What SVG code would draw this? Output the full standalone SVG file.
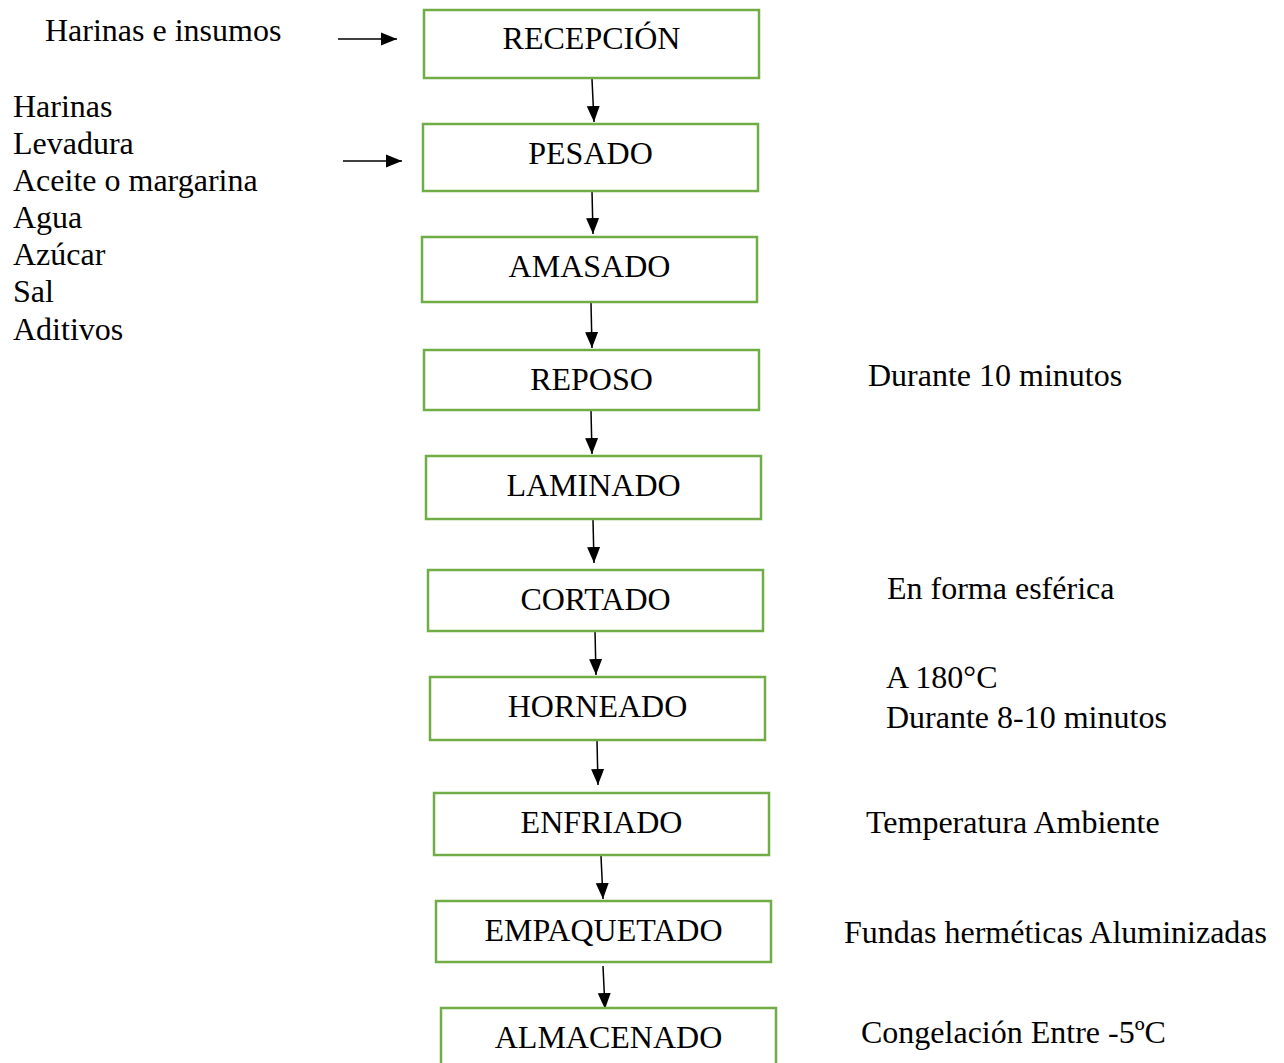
<svg xmlns="http://www.w3.org/2000/svg" width="1284" height="1063" viewBox="0 0 1284 1063">
<style>
text{font-family:"Liberation Serif","Times New Roman",serif;font-size:32px;fill:#000}
.box{fill:#fff;stroke:#70AD47;stroke-width:2.5}
.lbl{text-anchor:middle}
.c{stroke:#000;stroke-width:1.5;fill:none;marker-end:url(#ah)}
</style>
<defs>
<marker id="ah" markerUnits="userSpaceOnUse" markerWidth="16" markerHeight="16" viewBox="0 0 16 16" refX="16" refY="8" orient="auto">
<path d="M0,1.5 L16,8 L0,14.5 Z" fill="#000"/>
</marker>
</defs>
<rect width="1284" height="1063" fill="#fff"/>
<g id="connectors">
<line class="c" x1="338" y1="39" x2="397" y2="39"/>
<line class="c" x1="343" y1="161" x2="402" y2="161"/>
<line class="c" x1="592" y1="79" x2="594" y2="122"/>
<line class="c" x1="592" y1="191" x2="593" y2="234"/>
<line class="c" x1="591" y1="303" x2="592" y2="348"/>
<line class="c" x1="591" y1="411" x2="592" y2="454"/>
<line class="c" x1="593" y1="520" x2="594" y2="563"/>
<line class="c" x1="595" y1="631" x2="596" y2="675"/>
<line class="c" x1="597" y1="741" x2="598" y2="785"/>
<line class="c" x1="601" y1="856" x2="603" y2="899"/>
<line class="c" x1="603" y1="966" x2="605" y2="1009"/>
</g>
<g id="recepcion"><rect class="box" x="424" y="10" width="335" height="68"/><text class="lbl" x="591.5" y="49">RECEPCIÓN</text></g>
<g id="pesado"><rect class="box" x="423" y="124" width="335" height="67"/><text class="lbl" x="590.5" y="164">PESADO</text></g>
<g id="amasado"><rect class="box" x="422" y="237" width="335" height="65"/><text class="lbl" x="589.5" y="277">AMASADO</text></g>
<g id="reposo"><rect class="box" x="424" y="350" width="335" height="60"/><text class="lbl" x="591.5" y="390">REPOSO</text></g>
<g id="laminado"><rect class="box" x="426" y="456" width="335" height="63"/><text class="lbl" x="593.5" y="496">LAMINADO</text></g>
<g id="cortado"><rect class="box" x="428" y="570" width="335" height="61"/><text class="lbl" x="595.5" y="610">CORTADO</text></g>
<g id="horneado"><rect class="box" x="430" y="677" width="335" height="63"/><text class="lbl" x="597.5" y="717">HORNEADO</text></g>
<g id="enfriado"><rect class="box" x="434" y="793" width="335" height="62"/><text class="lbl" x="601.5" y="833">ENFRIADO</text></g>
<g id="empaquetado"><rect class="box" x="436" y="901" width="335" height="61"/><text class="lbl" x="603.5" y="941">EMPAQUETADO</text></g>
<g id="almacenado"><rect class="box" x="441" y="1008" width="335" height="62"/><text class="lbl" x="608.5" y="1048">ALMACENADO</text></g>
<g id="inputs">
<text x="45" y="41">Harinas e insumos</text>
<text x="13" y="117">Harinas</text>
<text x="13" y="154">Levadura</text>
<text x="13" y="191">Aceite o margarina</text>
<text x="13" y="228">Agua</text>
<text x="13" y="265">Azúcar</text>
<text x="13" y="302">Sal</text>
<text x="13" y="340">Aditivos</text>
</g>
<g id="notes">
<text x="868" y="386">Durante 10 minutos</text>
<text x="887" y="599">En forma esférica</text>
<text x="886" y="688">A 180°C</text>
<text x="886" y="728">Durante 8-10 minutos</text>
<text x="866" y="833">Temperatura Ambiente</text>
<text x="844" y="943">Fundas herméticas Aluminizadas</text>
<text x="861" y="1043">Congelación Entre -5ºC</text>
</g>
</svg>
